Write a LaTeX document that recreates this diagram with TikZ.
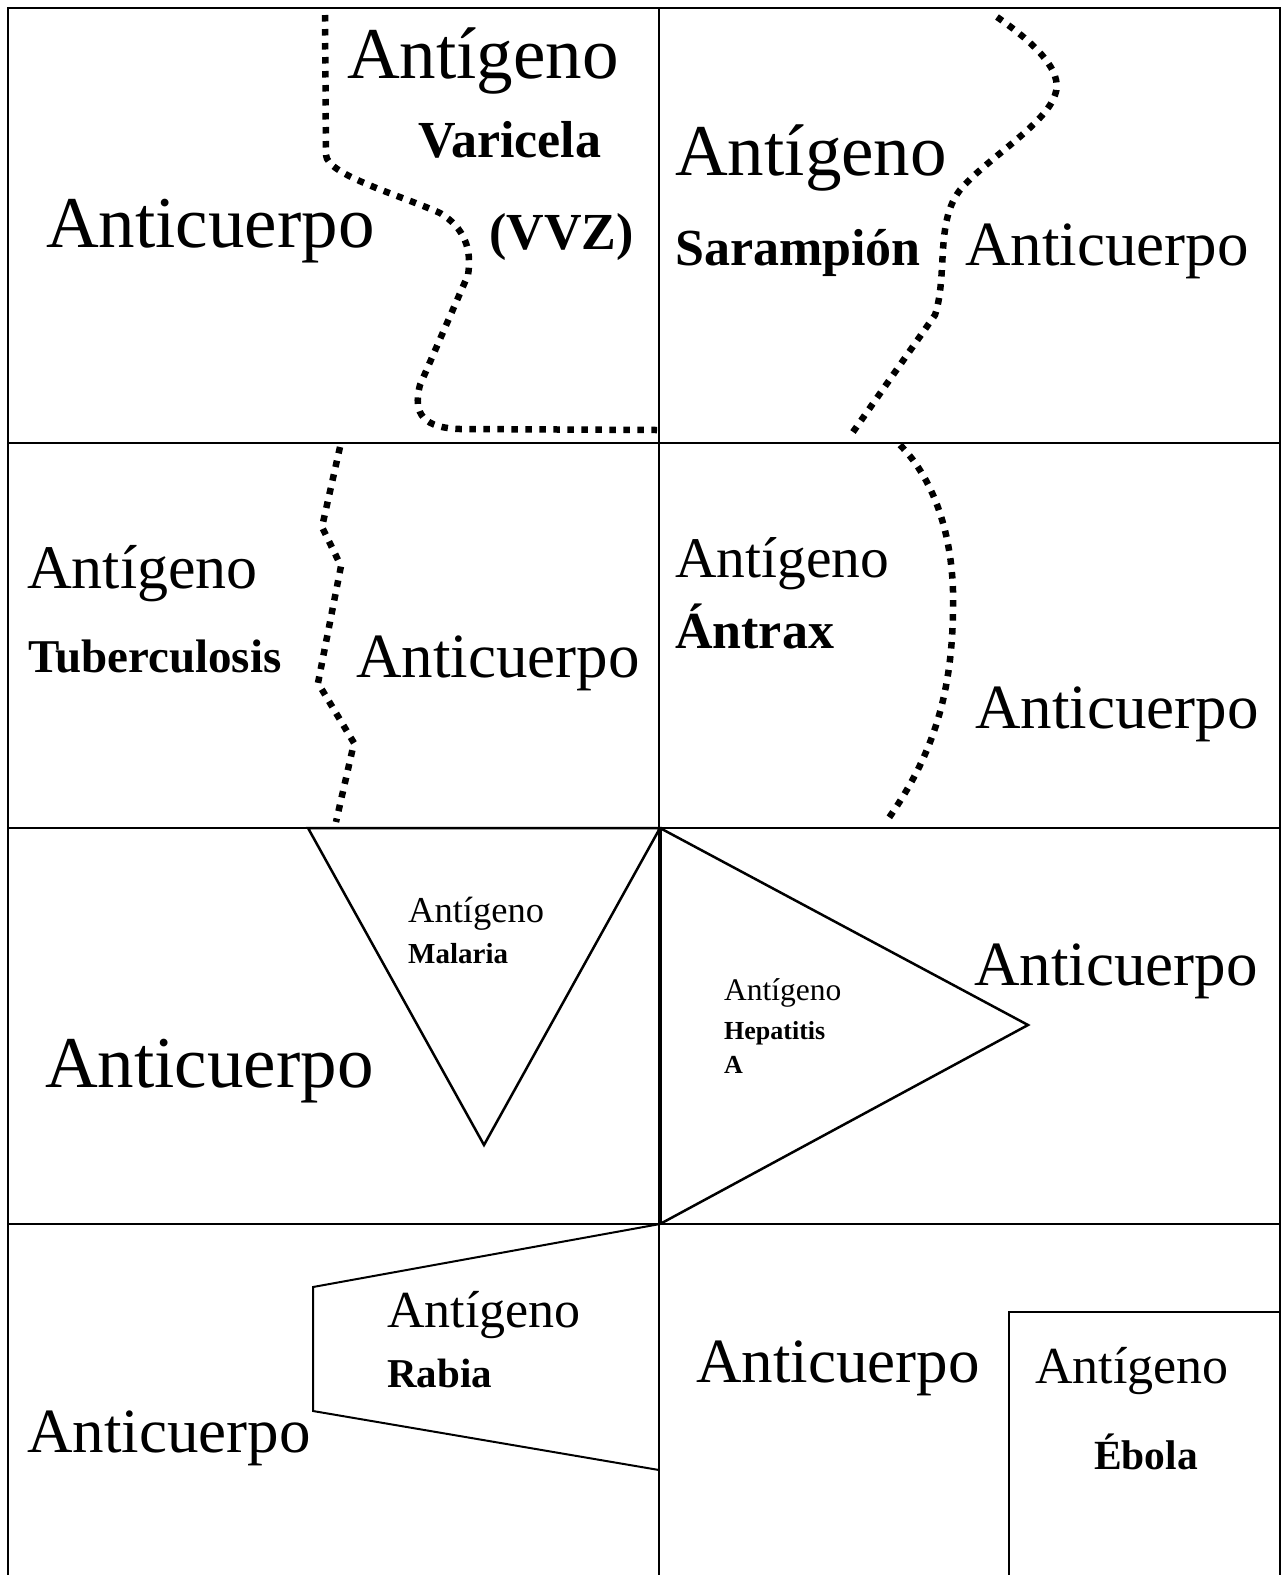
\documentclass[tikz,border=0pt]{standalone}
\usepackage{fontspec}
\setmainfont{Liberation Serif}
\tikzset{
  txt/.style={anchor=base west, inner sep=0pt, font=\fontsize{#1}{#1}\selectfont},
  btxt/.style={anchor=base west, inner sep=0pt, font=\fontsize{#1}{#1}\selectfont\bfseries},
  dots/.style={line width=6.5pt, dash pattern=on 6.5pt off 7.5pt},
  grid/.style={line width=2pt},
}
\begin{document}
\begin{tikzpicture}[x=1pt,y=-1pt]
\useasboundingbox (0,0) rectangle (1283,1575);

% Frame and cells
\draw[grid] (8,1575) -- (8,8) -- (1280,8) -- (1280,1575);
\draw[grid] (659,8) -- (659,1575);
\draw[grid] (8,443) -- (1280,443);
\draw[grid] (8,828) -- (1280,828);
\draw[grid] (8,1224) -- (1280,1224);

% Varicela: dotted border
\draw[dots] (325,15) -- (326,155) .. controls (327,175) and (400,195) .. (440,213)
  .. controls (465,228) and (472,250) .. (468,275) -- (420,385)
  .. controls (412,415) and (425,428) .. (460,429) -- (657,430);
\node[txt=73] (agvar) at (347,78) {Antígeno};
\node[btxt=52] (var) at (418,157) {Varicela};
\node[btxt=52] (vvz) at (489,249) {(VVZ)};
\node[txt=73] (acvar) at (46,247) {Anticuerpo};

% Sarampion: dotted border
\draw[dots] (997,17) .. controls (1030,40) and (1065,70) .. (1055,95)
  .. controls (1045,125) and (985,160) .. (960,190)
  .. controls (935,222) and (948,275) .. (935,315) -- (853,432);
\node[txt=73] (agsar) at (675,175) {Antígeno};
\node[btxt=52] (sar) at (675,265) {Sarampión};
\node[txt=63] (acsar) at (965,265) {Anticuerpo};

% Tuberculosis: dotted zigzag
\draw[dots] (340,447) -- (322,527) -- (341,566) -- (318,683) -- (354,743) -- (336,822);
\node[txt=62] (agtb) at (27,588) {Antígeno};
\node[btxt=47] (tb) at (28,672) {Tuberculosis};
\node[txt=63] (actb) at (356,677) {Anticuerpo};

% Antrax: dotted arc
\draw[dots] (900,445) .. controls (935,480) and (955,540) .. (953,610)
  .. controls (952,700) and (930,760) .. (886,822);
\node[txt=57.5] (agan) at (675,577) {Antígeno};
\node[btxt=52] (an) at (675,648) {Ántrax};
\node[txt=63] (acan) at (975,728) {Anticuerpo};

% Malaria: triangle
\draw[line width=2.5pt] (308,828) -- (484,1145) -- (660,828) -- cycle;
\node[txt=36.5] (agma) at (408,922) {Antígeno};
\node[btxt=29] (ma) at (408,963) {Malaria};
\node[txt=73] (acma) at (45,1087) {Anticuerpo};

% Hepatitis A: wedge
\draw[line width=3pt] (660,828) -- (660,1224);
\draw[line width=2.5pt] (660,828) -- (1028,1025) -- (660,1224);
\node[txt=31.5] (aghe) at (724,1000) {Antígeno};
\node[btxt=26] (he) at (724,1039) {Hepatitis};
\node[btxt=26] (hea) at (724,1073) {A};
\node[txt=63] (ache) at (974,985) {Anticuerpo};

% Rabia: trapezium
\draw[line width=2pt] (660,1224) -- (313,1287) -- (313,1411) -- (659,1470);
\node[txt=52] (agra) at (387,1327) {Antígeno};
\node[btxt=41] (ra) at (387,1387) {Rabia};
\node[txt=63] (acra) at (27,1452) {Anticuerpo};

% Ebola: box
\draw[line width=1.5pt] (1280,1312) -- (1009,1312) -- (1009,1575);
\node[txt=63] (aceb) at (696,1382) {Anticuerpo};
\node[txt=52] (ageb) at (1035,1383) {Antígeno};
\node[btxt=41.5] (eb) at (1094,1469) {Ébola};

\end{tikzpicture}
\end{document}
